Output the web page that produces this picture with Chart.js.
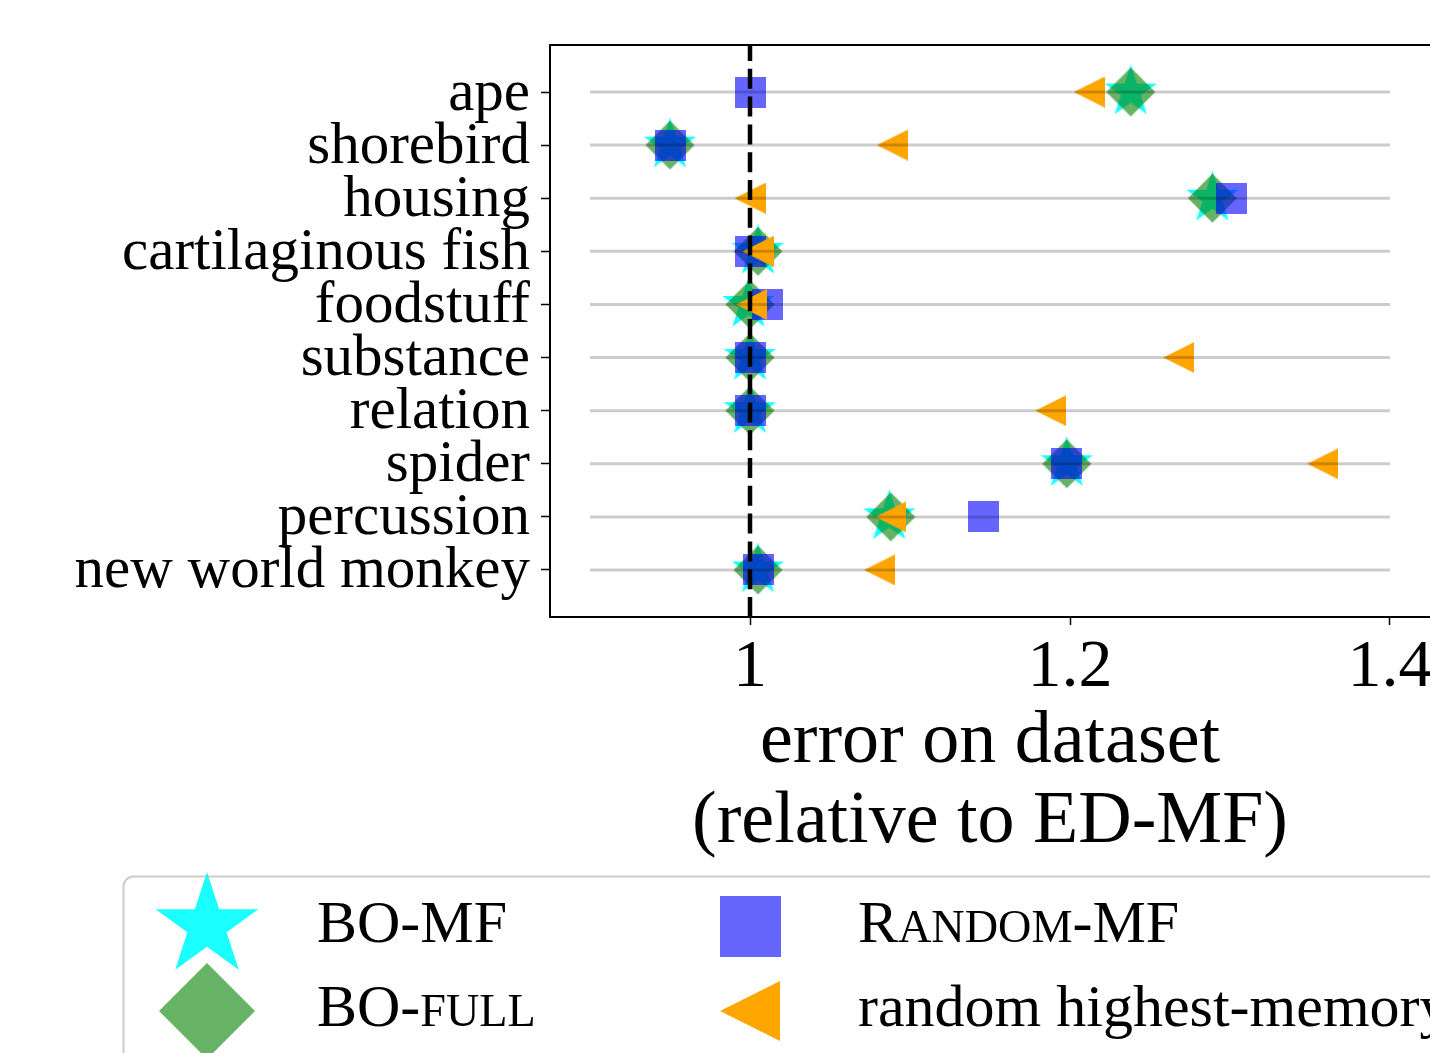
<!DOCTYPE html>
<html><head><meta charset="utf-8">
<script src="https://cdn.jsdelivr.net/npm/chart.js@4.4.0/dist/chart.umd.min.js"></script>
<style>html,body{margin:0;padding:0;background:#fff;}</style>
</head><body>
<canvas id="c" width="1430" height="1053"></canvas>
<script>
// ---------------- data ----------------
const categories = ['ape','shorebird','housing','cartilaginous fish','foodstuff','substance','relation','spider','percussion','new world monkey'];
const boMF          = [1.238, 0.950, 1.289, 1.005, 0.999, 1.000, 1.000, 1.198, 1.087, 1.005];
const boFull        = [1.238, 0.950, 1.289, 1.005, 1.000, 1.000, 1.000, 1.198, 1.088, 1.005];
const randomMF      = [1.000, 0.950, 1.301, 1.000, 1.011, 1.000, 1.000, 1.198, 1.146, 1.005];
const randomHighest = [1.212, 1.089, 1.000, 1.005, 1.001, 1.268, 1.188, 1.358, 1.088, 1.081];
const xTicks = [1, 1.2, 1.4];
const xTickLabels = ['1', '1.2', '1.4'];
const referenceValue = 1;
const rowLineStart = 0.9;
const rowLineEnd = 1.4;
const xTitle = ['error on dataset', '(relative to ED-MF)'];

// ---------------- styling ----------------
const FONT = 'Liberation Serif';
const X_MIN = 0.875, X_MAX = 1.425;
const Y_MIN = -0.885, Y_MAX = categories.length - 1 + 0.885;

function makeImg(w, h, draw) {
  const c = document.createElement('canvas');
  c.width = Math.ceil(w); c.height = Math.ceil(h);
  const g = c.getContext('2d');
  draw(g, c.width, c.height);
  return c;
}
function starPath(g, cx, cy, R) {
  const r = R * 0.381966;
  g.beginPath();
  for (let k = 0; k < 10; k++) {
    const a = -Math.PI / 2 + k * Math.PI / 5;
    const rr = k % 2 === 0 ? R : r;
    const px = cx + rr * Math.cos(a), py = cy + rr * Math.sin(a);
    if (k === 0) g.moveTo(px, py); else g.lineTo(px, py);
  }
  g.closePath();
}
function diamondPath(g, cx, cy, h) {
  g.beginPath(); g.moveTo(cx, cy - h); g.lineTo(cx + h, cy); g.lineTo(cx, cy + h); g.lineTo(cx - h, cy); g.closePath();
}
function triPath(g, cx, cy, s) {
  g.beginPath(); g.moveTo(cx - s / 2, cy); g.lineTo(cx + s / 2, cy - s / 2); g.lineTo(cx + s / 2, cy + s / 2); g.closePath();
}
const COL_STAR = 'rgba(0,255,255,0.9)';
const COL_DIAM = 'rgba(0,128,0,0.6)';
const COL_SQ = 'rgba(0,0,255,0.6)';
const COL_TRI = 'rgb(255,165,0)';

function starImg(R) { return makeImg(2 * R + 2, 2 * R + 2, (g, w, h) => { starPath(g, w / 2, h / 2, R); g.fillStyle = COL_STAR; g.fill(); }); }
function diamImg(hd) { return makeImg(2 * hd + 2, 2 * hd + 2, (g, w, h) => { diamondPath(g, w / 2, h / 2, hd); g.fillStyle = COL_DIAM; g.fill(); }); }
function sqImg(s) { return makeImg(s, s, (g, w, h) => { g.fillStyle = COL_SQ; g.fillRect(0, 0, w, h); }); }
function triImg(s) { return makeImg(s, s, (g, w, h) => { triPath(g, w / 2, h / 2, s); g.fillStyle = COL_TRI; g.fill(); }); }

const imgStar = starImg(27.5), imgDiam = diamImg(24.5), imgSq = sqImg(31), imgTri = triImg(31);
const legStar = starImg(54), legDiam = diamImg(48), legSq = sqImg(61), legTri = triImg(60);

const toPts = arr => arr.map((v, i) => ({ x: v, y: i }));

const datasets = [];
datasets.push({
  label: 'ref', data: [{ x: referenceValue, y: Y_MAX }, { x: referenceValue, y: Y_MIN }],
  showLine: true, borderColor: '#000', borderWidth: 4.5, borderDash: [20, 7.8], pointRadius: 0, order: 0, clip: false
});
categories.forEach((c, i) => {
  datasets.push({
    label: 'row ' + c, data: [{ x: rowLineStart, y: i }, { x: rowLineEnd, y: i }],
    showLine: true, borderColor: 'rgba(0,0,0,0.2)', borderWidth: 3, pointRadius: 0, order: 1
  });
});
datasets.push({ label: 'random highest-memory', data: toPts(randomHighest), pointStyle: imgTri, pointRadius: 16, order: 2 });
datasets.push({ label: 'Random-MF', data: toPts(randomMF), pointStyle: imgSq, pointRadius: 16, order: 3 });
datasets.push({ label: 'BO-full', data: toPts(boFull), pointStyle: imgDiam, pointRadius: 25, order: 4 });
datasets.push({ label: 'BO-MF', data: toPts(boMF), pointStyle: imgStar, pointRadius: 28, order: 5 });

function drawRich(ctx, parts, x, y, size) {
  let cx = x;
  parts.forEach(p => {
    const s = p.sc ? size * 0.77 : size;
    const t = p.sc ? p.t.toUpperCase() : p.t;
    ctx.font = s + 'px "' + FONT + '"';
    ctx.fillText(t, cx, y);
    cx += ctx.measureText(t).width;
  });
}

const legendPlugin = {
  id: 'mplLegend',
  afterDraw(chart) {
    const ctx = chart.ctx;
    ctx.save();
    const bx = 123.5, by = 876.5, bw = 1400, bh = 300, r = 10;
    ctx.beginPath();
    ctx.moveTo(bx + r, by); ctx.lineTo(bx + bw - r, by); ctx.arcTo(bx + bw, by, bx + bw, by + r, r);
    ctx.lineTo(bx + bw, by + bh - r); ctx.arcTo(bx + bw, by + bh, bx + bw - r, by + bh, r);
    ctx.lineTo(bx + r, by + bh); ctx.arcTo(bx, by + bh, bx, by + bh - r, r);
    ctx.lineTo(bx, by + r); ctx.arcTo(bx, by, bx + r, by, r); ctx.closePath();
    ctx.fillStyle = 'rgba(255,255,255,0.8)'; ctx.fill();
    ctx.strokeStyle = '#cccccc'; ctx.lineWidth = 2; ctx.stroke();
    const put = (img, x, y) => ctx.drawImage(img, Math.round(x - img.width / 2), Math.round(y - img.height / 2));
    put(legStar, 207, 926);
    put(legDiam, 207, 1011);
    put(legSq, 750, 926);
    put(legTri, 750, 1011);
    ctx.fillStyle = '#000'; ctx.textBaseline = 'alphabetic'; ctx.textAlign = 'left';
    const size = 60;
    drawRich(ctx, [{ t: 'BO-MF' }], 317, 942, size);
    drawRich(ctx, [{ t: 'BO-' }, { t: 'full', sc: true }], 317, 1026, size);
    drawRich(ctx, [{ t: 'R' }, { t: 'andom', sc: true }, { t: '-MF' }], 858, 942, size);
    drawRich(ctx, [{ t: 'random highest-memory' }], 858, 1026, size);
    ctx.restore();
  }
};

new Chart(document.getElementById('c'), {
  type: 'scatter',
  data: { datasets },
  plugins: [legendPlugin],
  options: {
    responsive: false, animation: false, devicePixelRatio: 1, events: [],
    layout: { autoPadding: false, padding: { top: 45, left: 0, right: 0, bottom: 190 } },
    plugins: { legend: { display: false }, tooltip: { enabled: false } },
    scales: {
      x: {
        type: 'linear', position: 'bottom', min: X_MIN, max: X_MAX,
        afterBuildTicks: s => { s.ticks = xTicks.map(v => ({ value: v })); },
        ticks: { callback: (v, i) => xTickLabels[i], font: { family: FONT, size: 68, lineHeight: 1 }, color: '#000', padding: 9, maxRotation: 0, autoSkip: false },
        grid: { drawOnChartArea: false, drawTicks: true, tickLength: 8, tickWidth: 1.5, tickColor: '#000' },
        border: { display: true, color: '#000', width: 2 },
        title: { display: true, text: xTitle, font: { family: FONT, size: 74, lineHeight: 80 / 74 }, color: '#000', padding: { top: 0, bottom: 0 } },
        afterFit: s => { s.height = 246; s.paddingLeft = 0; s.paddingRight = 0; }
      },
      x2: {
        type: 'linear', position: 'top', min: X_MIN, max: X_MAX,
        grid: { display: false }, ticks: { display: false },
        border: { display: true, color: '#000', width: 2 },
        afterFit: s => { s.height = 0; s.paddingLeft = 0; s.paddingRight = 0; }
      },
      y: {
        type: 'linear', reverse: true, min: Y_MIN, max: Y_MAX,
        afterBuildTicks: s => { s.ticks = categories.map((c, i) => ({ value: i })); },
        ticks: { callback: v => categories[v], font: { family: FONT, size: 59, lineHeight: 1 }, color: '#000', padding: 11, labelOffset: 2, autoSkip: false },
        grid: { drawOnChartArea: false, drawTicks: true, tickLength: 9, tickWidth: 1.5, tickColor: '#000' },
        border: { display: true, color: '#000', width: 2 },
        afterFit: s => { s.width = 550; s.paddingTop = 0; s.paddingBottom = 0; }
      }
    }
  }
});
</script>
</body></html>
